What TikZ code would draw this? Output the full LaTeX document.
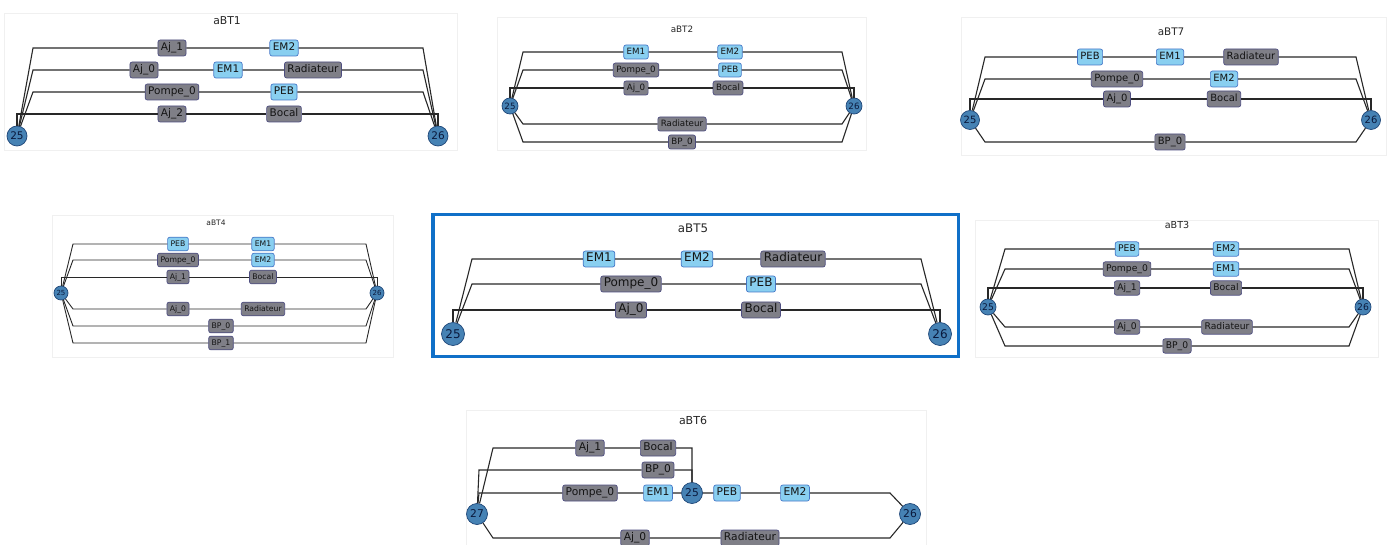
\documentclass[tikz,border=0pt]{standalone}
\usepackage{fontspec}
\setmainfont{DejaVu Sans}

\definecolor{boxgray}{RGB}{127,127,135}
\definecolor{boxedge}{RGB}{78,78,128}
\definecolor{elecblue}{RGB}{137,207,240}
\definecolor{elecedge}{RGB}{70,120,200}
\definecolor{juncblue}{RGB}{70,130,180}
\definecolor{juncedge}{RGB}{30,70,120}
\definecolor{juncnum}{RGB}{10,25,60}
\definecolor{wirecol}{RGB}{40,40,40}
\definecolor{labeltext}{RGB}{20,20,20}
\definecolor{selblue}{RGB}{16,112,200}

\begin{document}
\begin{tikzpicture}[x=1pt, y=-1pt, line width=1.1pt,
  comp/.style={draw=boxedge, fill=boxgray, text=labeltext, rounded corners=0.22em,
    line width=0.7pt, inner xsep=0.3em, inner ysep=0.3em,
    text height=0.75em, text depth=0.25em},
  elec/.style={comp, draw=elecedge, fill=elecblue},
  junc/.style={circle, draw=juncedge, fill=juncblue, text=juncnum,
    line width=0.7pt, inner sep=0pt},
  wire/.style={draw=wirecol, line width=1.1pt},
  panel/.style={draw=black!6, line width=0.8pt},
  treetitle/.style={text=black!85}]

\path[use as bounding box, fill=white] (0,0) rectangle (1392,545);

% =========================
% aBT1
% =========================
\begin{scope}[shift={(0,0)}, font=\fontsize{10.5}{12}\selectfont,
  junc/.append style={minimum size=20pt}]
  \draw[panel] (4,13) rectangle (457,150);
  \node[treetitle, font=\fontsize{10.8}{12}\selectfont] (a1t) at (227,21) {aBT1};

  % junctions
  \node[junc] (a1n25) at (17,136) {25};
  \node[junc] (a1n26) at (438,136) {26};

  % components
  \node[comp] (a1aj1) at (172,48) {Aj\_1};
  \node[elec] (a1em2) at (284,48) {EM2};
  \node[comp] (a1aj0) at (144,70) {Aj\_0};
  \node[elec] (a1em1) at (228,70) {EM1};
  \node[comp] (a1rad) at (313,70) {Radiateur};
  \node[comp] (a1pom) at (172,92) {Pompe\_0};
  \node[elec] (a1peb) at (284,92) {PEB};
  \node[comp] (a1aj2) at (172,114) {Aj\_2};
  \node[comp] (a1boc) at (284,114) {Bocal};

  % wires
  \coordinate (a1l) at (33,0);
  \coordinate (a1r) at (423,0);
  \draw[wire] (a1n25) -- (a1l |- a1aj1) -- (a1aj1) -- (a1em2) -- (a1r |- a1em2) -- (a1n26);
  \draw[wire] (a1n25) -- (a1l |- a1aj0) -- (a1aj0) -- (a1em1) -- (a1rad) -- (a1r |- a1rad) -- (a1n26);
  \draw[wire] (a1n25) -- (a1l |- a1pom) -- (a1pom) -- (a1peb) -- (a1r |- a1peb) -- (a1n26);
  \draw[wire] (a1n25) -- (a1n25 |- a1aj2) -- (a1aj2) -- (a1boc) -- (a1n26 |- a1boc) -- (a1n26);
\end{scope}

% =========================
% aBT2
% =========================
\begin{scope}[shift={(464,0)}, font=\fontsize{8.7}{10}\selectfont,
  junc/.append style={minimum size=16pt}, comp/.append style={inner ysep=0.2em}]
  \draw[panel] (33,17) rectangle (402,150);
  \node[treetitle, font=\fontsize{8.8}{10}\selectfont] (a2t) at (218,29) {aBT2};

  % junctions
  \node[junc] (a2n25) at (46,106) {25};
  \node[junc] (a2n26) at (390,106) {26};

  % components
  \node[elec] (a2em1) at (172,52) {EM1};
  \node[elec] (a2em2) at (266,52) {EM2};
  \node[comp] (a2pom) at (172,70) {Pompe\_0};
  \node[elec] (a2peb) at (266,70) {PEB};
  \node[comp] (a2aj0) at (172,88) {Aj\_0};
  \node[comp] (a2boc) at (264,88) {Bocal};
  \node[comp] (a2rad) at (218,124) {Radiateur};
  \node[comp] (a2bp0) at (218,142) {BP\_0};

  % wires
  \coordinate (a2l) at (59,0);
  \coordinate (a2r) at (378,0);
  \draw[wire] (a2n25) -- (a2l |- a2em1) -- (a2em1) -- (a2em2) -- (a2r |- a2em2) -- (a2n26);
  \draw[wire] (a2n25) -- (a2l |- a2pom) -- (a2pom) -- (a2peb) -- (a2r |- a2peb) -- (a2n26);
  \draw[wire] (a2n25) -- (a2n25 |- a2aj0) -- (a2aj0) -- (a2boc) -- (a2n26 |- a2boc) -- (a2n26);
  \draw[wire] (a2n25) -- (a2l |- a2rad) -- (a2rad) -- (a2r |- a2rad) -- (a2n26);
  \draw[wire] (a2n25) -- (a2l |- a2bp0) -- (a2bp0) -- (a2r |- a2bp0) -- (a2n26);
\end{scope}

% =========================
% aBT7
% =========================
\begin{scope}[shift={(928,0)}, font=\fontsize{10}{12}\selectfont,
  junc/.append style={minimum size=19pt}]
  \draw[panel] (33,17) rectangle (458,155);
  \node[treetitle, font=\fontsize{10.4}{12}\selectfont] (a7t) at (243,32) {aBT7};

  % junctions
  \node[junc] (a7n25) at (42,120) {25};
  \node[junc] (a7n26) at (443,120) {26};

  % components
  \node[elec] (a7peb) at (162,57) {PEB};
  \node[elec] (a7em1) at (242,57) {EM1};
  \node[comp] (a7rad) at (323,57) {Radiateur};
  \node[comp] (a7pom) at (189,79) {Pompe\_0};
  \node[elec] (a7em2) at (296,79) {EM2};
  \node[comp] (a7aj0) at (189,99) {Aj\_0};
  \node[comp] (a7boc) at (296,99) {Bocal};
  \node[comp] (a7bp0) at (242,142) {BP\_0};

  % wires
  \coordinate (a7l) at (57,0);
  \coordinate (a7r) at (428,0);
  \draw[wire] (a7n25) -- (a7l |- a7peb) -- (a7peb) -- (a7em1) -- (a7rad) -- (a7r |- a7rad) -- (a7n26);
  \draw[wire] (a7n25) -- (a7l |- a7pom) -- (a7pom) -- (a7em2) -- (a7r |- a7em2) -- (a7n26);
  \draw[wire] (a7n25) -- (a7n25 |- a7aj0) -- (a7aj0) -- (a7boc) -- (a7n26 |- a7boc) -- (a7n26);
  \draw[wire] (a7n25) -- (a7l |- a7bp0) -- (a7bp0) -- (a7r |- a7bp0) -- (a7n26);
\end{scope}

% =========================
% aBT4
% =========================
\begin{scope}[shift={(40,200)}, font=\fontsize{7.7}{9}\selectfont,
  junc/.append style={minimum size=14pt}, comp/.append style={inner ysep=0.18em}]
  \draw[panel] (12,15) rectangle (353,157);
  \node[treetitle, font=\fontsize{7.5}{9}\selectfont] (a4t) at (176,23) {aBT4};

  % junctions
  \node[junc, font=\fontsize{7}{8}\selectfont] (a4n25) at (21,93) {25};
  \node[junc, font=\fontsize{7}{8}\selectfont] (a4n26) at (337,93) {26};

  % components
  \node[elec] (a4peb) at (138,44) {PEB};
  \node[elec] (a4em1) at (223,44) {EM1};
  \node[comp] (a4pom) at (138,60) {Pompe\_0};
  \node[elec] (a4em2) at (223,60) {EM2};
  \node[comp] (a4aj1) at (138,77) {Aj\_1};
  \node[comp] (a4boc) at (223,77) {Bocal};
  \node[comp] (a4aj0) at (138,109) {Aj\_0};
  \node[comp] (a4rad) at (223,109) {Radiateur};
  \node[comp] (a4bp0) at (181,126) {BP\_0};
  \node[comp] (a4bp1) at (181,143) {BP\_1};

  % wires
  \coordinate (a4l) at (33,0);
  \coordinate (a4r) at (326,0);
  \draw[wire, line width=0.9pt] (a4n25) -- (a4l |- a4peb) -- (a4peb) -- (a4em1) -- (a4r |- a4em1) -- (a4n26);
  \draw[wire, line width=0.9pt] (a4n25) -- (a4l |- a4pom) -- (a4pom) -- (a4em2) -- (a4r |- a4em2) -- (a4n26);
  \draw[wire, line width=0.9pt] (a4n25) -- (a4n25 |- a4aj1) -- (a4aj1) -- (a4boc) -- (a4n26 |- a4boc) -- (a4n26);
  \draw[wire, line width=0.9pt] (a4n25) -- (a4l |- a4aj0) -- (a4aj0) -- (a4rad) -- (a4r |- a4rad) -- (a4n26);
  \draw[wire, line width=0.9pt] (a4n25) -- (a4l |- a4bp0) -- (a4bp0) -- (a4r |- a4bp0) -- (a4n26);
  \draw[wire, line width=0.9pt] (a4n25) -- (a4l |- a4bp1) -- (a4bp1) -- (a4r |- a4bp1) -- (a4n26);
\end{scope}

% =========================
% aBT5 (selected)
% =========================
\begin{scope}[shift={(428,205)}, font=\fontsize{12}{14}\selectfont,
  junc/.append style={minimum size=23pt}]
  \draw[selblue, line width=3.5pt] (4.75,9.75) rectangle (530.25,151.25);
  \node[treetitle, font=\fontsize{11.8}{14}\selectfont] (a5t) at (265,23) {aBT5};

  % junctions
  \node[junc] (a5n25) at (25,129) {25};
  \node[junc] (a5n26) at (512,129) {26};

  % components
  \node[elec] (a5em1) at (171,54) {EM1};
  \node[elec] (a5em2) at (269,54) {EM2};
  \node[comp] (a5rad) at (365,54) {Radiateur};
  \node[comp] (a5pom) at (203,79) {Pompe\_0};
  \node[elec] (a5peb) at (333,79) {PEB};
  \node[comp] (a5aj0) at (203,105) {Aj\_0};
  \node[comp] (a5boc) at (333,105) {Bocal};

  % wires
  \coordinate (a5l) at (44,0);
  \coordinate (a5r) at (493,0);
  \draw[wire] (a5n25) -- (a5l |- a5em1) -- (a5em1) -- (a5em2) -- (a5rad) -- (a5r |- a5rad) -- (a5n26);
  \draw[wire] (a5n25) -- (a5l |- a5pom) -- (a5pom) -- (a5peb) -- (a5r |- a5peb) -- (a5n26);
  \draw[wire] (a5n25) -- (a5n25 |- a5aj0) -- (a5aj0) -- (a5boc) -- (a5n26 |- a5boc) -- (a5n26);
\end{scope}

% =========================
% aBT3
% =========================
\begin{scope}[shift={(960,200)}, font=\fontsize{9.2}{11}\selectfont,
  junc/.append style={minimum size=16pt}, comp/.append style={inner ysep=0.22em}]
  \draw[panel] (15,20) rectangle (418,157);
  \node[treetitle, font=\fontsize{9.6}{11}\selectfont] (a3t) at (217,25) {aBT3};

  % junctions
  \node[junc] (a3n25) at (28,107) {25};
  \node[junc] (a3n26) at (403,107) {26};

  % components
  \node[elec] (a3peb) at (167,49) {PEB};
  \node[elec] (a3em2) at (266,49) {EM2};
  \node[comp] (a3pom) at (167,69) {Pompe\_0};
  \node[elec] (a3em1) at (266,69) {EM1};
  \node[comp] (a3aj1) at (167,88) {Aj\_1};
  \node[comp] (a3boc) at (266,88) {Bocal};
  \node[comp] (a3aj0) at (167,127) {Aj\_0};
  \node[comp] (a3rad) at (267,127) {Radiateur};
  \node[comp] (a3bp0) at (217,146) {BP\_0};

  % wires
  \coordinate (a3l) at (45,0);
  \coordinate (a3r) at (389,0);
  \draw[wire] (a3n25) -- (a3l |- a3peb) -- (a3peb) -- (a3em2) -- (a3r |- a3em2) -- (a3n26);
  \draw[wire] (a3n25) -- (a3l |- a3pom) -- (a3pom) -- (a3em1) -- (a3r |- a3em1) -- (a3n26);
  \draw[wire] (a3n25) -- (a3n25 |- a3aj1) -- (a3aj1) -- (a3boc) -- (a3n26 |- a3boc) -- (a3n26);
  \draw[wire] (a3n25) -- (a3l |- a3aj0) -- (a3aj0) -- (a3rad) -- (a3r |- a3rad) -- (a3n26);
  \draw[wire] (a3n25) -- (a3l |- a3bp0) -- (a3bp0) -- (a3r |- a3bp0) -- (a3n26);
\end{scope}

% =========================
% aBT6
% =========================
\begin{scope}[shift={(460,405)}, font=\fontsize{10.7}{12}\selectfont,
  junc/.append style={minimum size=21pt}]
  \draw[panel] (6,5) rectangle (466,142);
  \node[treetitle, font=\fontsize{11}{13}\selectfont] (a6t) at (233,15) {aBT6};

  % junctions
  \node[junc] (a6n27) at (17,109) {27};
  \node[junc] (a6n25) at (232,88) {25};
  \node[junc] (a6n26) at (450,109) {26};

  % components
  \node[comp] (a6aj1) at (130,43) {Aj\_1};
  \node[comp] (a6boc) at (198,43) {Bocal};
  \node[comp] (a6bp0) at (198,65) {BP\_0};
  \node[comp] (a6pom) at (130,88) {Pompe\_0};
  \node[elec] (a6em1) at (198,88) {EM1};
  \node[elec] (a6peb) at (267,88) {PEB};
  \node[elec] (a6em2) at (335,88) {EM2};
  \node[comp] (a6aj0) at (175,133) {Aj\_0};
  \node[comp] (a6rad) at (290,133) {Radiateur};

  % wires
  \coordinate (a6l) at (33,0);
  \coordinate (a6v) at (19,0);
  \coordinate (a6r) at (430,0);
  \draw[wire] (a6n27) -- (a6l |- a6aj1) -- (a6aj1) -- (a6boc) -- (a6n25 |- a6boc) -- (a6n25);
  \draw[wire] (a6n27) -- (a6v |- a6bp0) -- (a6bp0) -- (a6n25 |- a6bp0) -- (a6n25);
  \draw[wire] (a6n27) -- (a6v |- a6pom) -- (a6pom) -- (a6em1) -- (a6n25) -- (a6peb) -- (a6em2) -- (a6r |- a6em2) -- (a6n26);
  \draw[wire] (a6n27) -- (a6l |- a6aj0) -- (a6aj0) -- (a6rad) -- (a6r |- a6rad) -- (a6n26);
\end{scope}

\end{tikzpicture}
\end{document}
